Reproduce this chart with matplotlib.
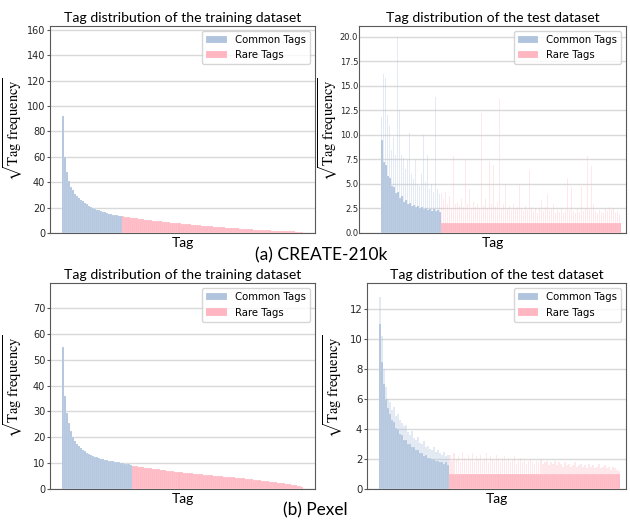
import matplotlib
matplotlib.use("Agg")
import matplotlib.pyplot as plt

# sqrt(tag frequency), tags sorted by training frequency (binned, ~2 px per bar)
train_a_common = [92, 60, 48, 41, 36.5, 33.5, 31, 29.3, 27.8, 26.3,
                  25, 23.8, 22.7, 21.6, 20.8, 20, 19.2, 18.4, 17.8, 17.2,
                  16.7, 16.2, 15.8, 15.3, 14.9, 14.5, 14.1, 13.8, 13.4, 13.1]
train_a_rare = [13.0, 12.8, 12.6, 12.3, 12.1, 11.9, 11.7, 11.5, 11.2, 11.0,
                10.8, 10.6, 10.4, 10.2, 10.0, 9.8, 9.6, 9.4, 9.3, 9.1,
                8.9, 8.7, 8.5, 8.4, 8.2, 8.0, 7.9, 7.7, 7.5, 7.4,
                7.2, 7.0, 6.9, 6.7, 6.6, 6.4, 6.3, 6.1, 6.0, 5.8,
                5.7, 5.6, 5.4, 5.3, 5.2, 5.0, 4.9, 4.8, 4.6, 4.5,
                4.4, 4.3, 4.1, 4.0, 3.9, 3.8, 3.7, 3.6, 3.5, 3.3,
                3.2, 3.1, 3.0, 2.9, 2.8, 2.7, 2.6, 2.5, 2.4, 2.3,
                2.2, 2.1, 2.1, 2.0, 1.9, 1.8, 1.7, 1.7, 1.6, 1.5,
                1.5, 1.4, 1.3, 1.3, 1.2, 1.2, 1.1, 1.1, 1.0, 1.0]

# test set: "body" = level most tags of a bin reach, "peak" = tallest tag in the bin
test_a_common_body = [9.5, 7.2, 6.9, 5.8, 5.6, 4.8, 4.7, 4.1, 4.2, 3.6,
                      3.8, 3.2, 3.4, 3.0, 3.1, 2.8, 2.9, 2.6, 2.8, 2.5,
                      2.6, 2.4, 2.5, 2.3, 2.4, 2.2, 2.4, 2.2, 2.3, 2.1]
test_a_common_peak = [11.8, 16.2, 15.8, 12.0, 10.9, 8.5, 9.8, 8.0, 20.0, 12.5,
                      8.0, 7.6, 6.5, 7.4, 10.2, 6.0, 5.5, 7.4, 5.0, 4.8,
                      6.0, 10.0, 5.2, 8.0, 4.5, 5.0, 4.2, 13.9, 4.5, 4.0]
test_a_rare_body = [1, 1, 1, 1, 1, 1, 1, 1, 1, 1, 1, 1, 1, 1, 1, 1, 1, 1,
                    1, 1, 1, 1, 1, 1, 1, 1, 1, 1, 1, 1, 1, 1, 1, 1, 1, 1,
                    1, 1, 1, 1, 1, 1, 1, 1, 1, 1, 1, 1, 1, 1, 1, 1, 1, 1,
                    1, 1, 1, 1, 1, 1, 1, 1, 1, 1, 1, 1, 1, 1, 1, 1, 1, 1,
                    1, 1, 1, 1, 1, 1, 1, 1, 1, 1, 1, 1, 1, 1, 1, 1, 1, 1]
test_a_rare_peak = [4.0, 3.5, 4.2, 3.0, 3.8, 2.5, 7.9, 3.0, 3.2, 2.8,
                    3.5, 2.6, 7.4, 3.0, 4.5, 2.4, 3.2, 2.6, 3.0, 2.4,
                    12.2, 2.8, 3.5, 2.5, 7.3, 3.0, 6.9, 2.6, 3.2, 13.7,
                    2.5, 3.0, 5.0, 2.4, 2.8, 2.3, 3.0, 2.4, 2.6, 5.0,
                    2.4, 2.2, 2.8, 2.3, 6.4, 2.6, 2.2, 2.5, 2.0, 2.4,
                    3.4, 2.2, 2.6, 4.0, 2.2, 2.4, 3.0, 2.0, 2.3, 2.1,
                    2.4, 2.0, 2.2, 5.6, 2.3, 4.7, 2.2, 2.0, 2.4, 2.1,
                    4.7, 2.2, 2.5, 7.8, 2.3, 6.8, 3.0, 2.2, 2.0, 2.3,
                    2.1, 2.0, 2.5, 2.2, 2.6, 2.3, 2.5, 2.0, 2.2, 1.8]

train_b_common = [55, 36, 29.5, 25.5, 22.3, 20.2, 18.8, 17.6, 16.6, 15.9,
                  15.3, 14.7, 14.1, 13.7, 13.3, 12.9, 12.6, 12.3, 12.0, 11.8,
                  11.6, 11.4, 11.2, 11.1, 10.9, 10.8, 10.6, 10.5, 10.4, 10.3,
                  10.1, 9.9, 9.7, 9.6, 9.4]
train_b_rare = [9.0, 8.9, 8.8, 8.7, 8.6, 8.5, 8.4, 8.3, 8.2, 8.1,
                8.0, 7.9, 7.8, 7.7, 7.6, 7.4, 7.3, 7.2, 7.1, 7.0,
                6.9, 6.8, 6.7, 6.6, 6.5, 6.4, 6.4, 6.3, 6.2, 6.1,
                6.0, 6.0, 5.9, 5.9, 5.8, 5.7, 5.6, 5.6, 5.5, 5.4,
                5.3, 5.3, 5.2, 5.1, 5.0, 4.9, 4.9, 4.8, 4.7, 4.6,
                4.6, 4.5, 4.4, 4.3, 4.2, 4.2, 4.1, 4.0, 3.9, 3.8,
                3.7, 3.6, 3.5, 3.5, 3.4, 3.3, 3.2, 3.1, 3.0, 2.9,
                2.8, 2.7, 2.6, 2.5, 2.4, 2.3, 2.2, 2.0, 1.9, 1.8,
                1.6, 1.5, 1.3, 1.1, 0.9]

test_b_common_body = [11.0, 8.5, 7.0, 6.0, 5.4, 5.0, 4.6, 4.5, 4.1, 4.0,
                      3.7, 3.6, 3.3, 3.3, 3.0, 3.0, 2.8, 2.8, 2.6, 2.6,
                      2.4, 2.4, 2.2, 2.3, 2.1, 2.1, 2.0, 2.0, 1.9, 1.9,
                      1.8, 1.8, 1.7, 1.8, 1.6]
test_b_common_peak = [12.8, 10.2, 8.0, 6.8, 6.0, 5.8, 5.3, 5.5, 4.9, 5.0,
                      4.6, 4.4, 4.2, 4.3, 3.8, 3.6, 3.9, 3.4, 3.3, 3.5,
                      3.1, 3.0, 3.2, 2.8, 2.9, 2.7, 2.6, 2.8, 2.5, 2.6,
                      2.4, 2.3, 2.5, 2.2, 2.3]
test_b_rare_body = [1, 1, 1, 1, 1, 1, 1, 1, 1, 1, 1, 1, 1, 1, 1, 1, 1,
                    1, 1, 1, 1, 1, 1, 1, 1, 1, 1, 1, 1, 1, 1, 1, 1, 1,
                    1, 1, 1, 1, 1, 1, 1, 1, 1, 1, 1, 1, 1, 1, 1, 1, 1,
                    1, 1, 1, 1, 1, 1, 1, 1, 1, 1, 1, 1, 1, 1, 1, 1, 1,
                    1, 1, 1, 1, 1, 1, 1, 1, 1, 1, 1, 1, 1, 1, 1, 1, 1]
test_b_rare_peak = [2.3, 1.9, 2.4, 2.0, 2.2, 1.8, 2.5, 2.1, 1.9, 2.3,
                    2.0, 2.4, 1.8, 2.2, 2.0, 2.3, 1.9, 2.1, 2.4, 1.8,
                    2.2, 2.0, 1.9, 2.3, 2.1, 1.8, 2.0, 2.2, 1.9, 2.1,
                    1.8, 2.0, 2.2, 1.7, 1.9, 2.1, 1.8, 2.0, 1.7, 1.9,
                    2.0, 1.8, 1.7, 1.9, 1.8, 2.0, 1.7, 1.8, 1.9, 1.6,
                    1.8, 1.7, 1.9, 1.6, 1.8, 1.7, 1.5, 1.8, 1.6, 1.7,
                    1.5, 1.6, 1.8, 1.5, 1.6, 1.7, 1.5, 1.6, 1.4, 1.7,
                    1.5, 1.6, 1.4, 1.5, 1.7, 1.4, 1.5, 1.6, 1.4, 1.5,
                    1.3, 1.5, 1.4, 1.3, 1.2]

COMMON = 'lightsteelblue'
RARE = 'lightpink'
TITLE_FONT = 'Lato'

plt.rcParams['font.size'] = 7.3
plt.rcParams['mathtext.fontset'] = 'stix'
plt.rcParams['axes.edgecolor'] = '0.35'
plt.rcParams['ytick.color'] = '0.35'
plt.rcParams['ytick.labelcolor'] = '0.15'


def draw_panel(ax, common, rare, title, ylim, common_peak=None, rare_peak=None,
               peak_width=0.5, tick_size=7.0, tick_len=2.0, tick_pad=1.5):
    xc = list(range(len(common)))
    xr = list(range(len(common), len(common) + len(rare)))
    # faint layer: single tall tags inside each bin, drawn as thin lines
    if common_peak is not None:
        ax.bar(xc, common_peak, width=peak_width, color=COMMON, alpha=0.35,
               linewidth=0, zorder=2)
        ax.bar(xr, rare_peak, width=peak_width, color=RARE, alpha=0.3,
               linewidth=0, zorder=2)
    ax.bar(xc, common, width=1.0, color=COMMON, edgecolor='white', linewidth=0.1,
           label='Common Tags', zorder=3)
    ax.bar(xr, rare, width=1.0, color=RARE, edgecolor='white', linewidth=0.1,
           label='Rare Tags', zorder=3)
    ax.set_ylim(*ylim)
    ax.set_xticks([])
    ax.grid(axis='y', color='0.85', linewidth=1.0, zorder=0)
    ax.set_axisbelow(True)
    ax.tick_params(axis='y', length=tick_len, pad=tick_pad, labelsize=tick_size)
    ax.set_title(title, family=TITLE_FONT, fontsize=10.1, pad=3)
    ax.set_xlabel('Tag', family=TITLE_FONT, fontsize=10, labelpad=3)
    ax.set_ylabel(r'$\sqrt{\mathrm{Tag\ frequency}}$', fontsize=10.5)
    ax.legend(loc='upper right', fontsize=7.3)


fig = plt.figure(figsize=(6.3, 5.21), dpi=100)
ax1 = fig.add_axes([0.0794, 0.5528, 0.4206, 0.3972])
ax2 = fig.add_axes([0.5703, 0.5528, 0.4235, 0.3972])
ax3 = fig.add_axes([0.0794, 0.0608, 0.4206, 0.3954])
ax4 = fig.add_axes([0.5830, 0.0608, 0.4108, 0.3954])

draw_panel(ax1, train_a_common, train_a_rare,
           'Tag distribution of the training dataset', (0, 163))
draw_panel(ax2, test_a_common_body, test_a_rare_body,
           'Tag distribution of the test dataset', (0, 21.1),
           test_a_common_peak, test_a_rare_peak,
           tick_size=6.0, tick_len=0, tick_pad=0.8)
draw_panel(ax3, train_b_common, train_b_rare,
           'Tag distribution of the training dataset', (0, 79.4))
draw_panel(ax4, test_b_common_body, test_b_rare_body,
           'Tag distribution of the test dataset', (0, 13.7),
           test_b_common_peak, test_b_rare_peak, peak_width=0.8, tick_size=7.3)

ax2.set_xlim(-11.3, 122.2)
ax4.set_xlim(-6.3, 122.5)

ax1.yaxis.set_label_coords(-0.094, 0.5)
ax2.yaxis.set_label_coords(-0.072, 0.5)
ax3.yaxis.set_label_coords(-0.094, 0.5)
ax4.yaxis.set_label_coords(-0.086, 0.5)

fig.text(0.51, 0.51, '(a) CREATE-210k', ha='center', va='center',
         family=TITLE_FONT, fontsize=12.5)
fig.text(0.50, 0.021, '(b) Pexel', ha='center', va='center',
         family=TITLE_FONT, fontsize=12.4)

fig.savefig('out.png', dpi=100)
plt.close(fig)
